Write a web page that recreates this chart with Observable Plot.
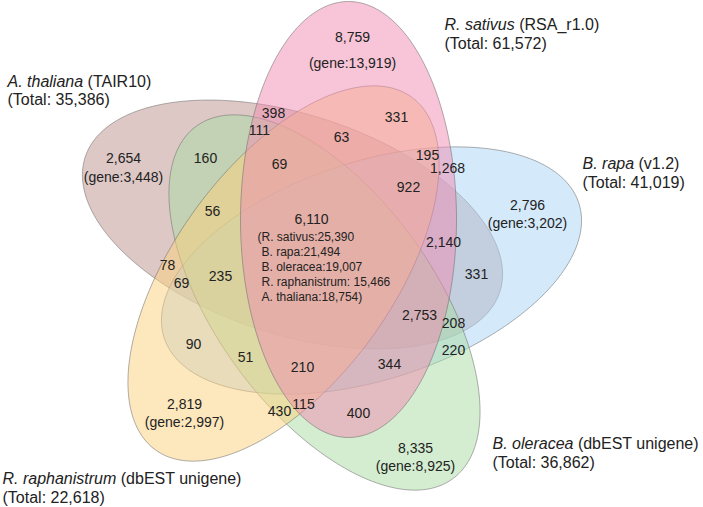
<!DOCTYPE html>
<html><head><meta charset="utf-8">
<script src="https://cdn.jsdelivr.net/npm/d3@7"></script>
<script src="https://cdn.jsdelivr.net/npm/@observablehq/plot@0.6"></script>
<style>html,body{margin:0;padding:0;background:#fff}</style>
</head><body><div id="chart"></div>
<script>
// ---- data ----
const sets = ["R. sativus", "A. thaliana", "B. rapa", "B. oleracea", "R. raphanistrum"];
const versions = ["(RSA_r1.0)", "(TAIR10)", "(v1.2)", "(dbEST unigene)", "(dbEST unigene)"];
const totals = [61572, 35386, 41019, 36862, 22618];
const uniqueCounts = [8759, 2654, 2796, 8335, 2819];
const uniqueGenes = [13919, 3448, 3202, 8925, 2997];
const overlapCounts = [398, 111, 63, 331, 69, 195, 1268, 922, 160, 56, 2140, 331, 235, 78, 69, 90, 51, 2753, 208, 220, 210, 344, 430, 115, 400];
const coreCount = 6110;
const coreLabels = ["R. sativus:", "B. rapa:", "B. oleracea:", "R. raphanistrum: ", "A. thaliana:"];
const coreGenes = [25390, 21494, 19007, 15466, 18754];

// ---- layout (positions / sizes / styles) ----
const W = 703, H = 507;
const colors = ["#f08cb0", "#bb928d", "#a9d4f5", "#aadba2", "#fbd07c"];
const ellipses = [
  {cx: 348, cy: 219, a: 218, b: 108, angle: 90},
  {cx: 292, cy: 224, a: 218, b: 110, angle: 18},
  {cx: 371, cy: 270, a: 218, b: 109, angle: -18},
  {cx: 324, cy: 302, a: 218, b: 109, angle: 54},
  {cx: 283, cy: 273, a: 218, b: 109, angle: -54}
];
const drawOrder = [1, 2, 3, 4, 0];
const labelPos = [[444, 24, 43], [7, 81, 99], [582, 163, 182], [492, 443, 462], [2, 478, 497]];
const uniquePos = [[352, 37, 63], [123, 158, 177], [527, 205, 223], [415, 448, 466], [184, 404, 422]];
const overlapPos = [[273,113],[259,130],[341,137],[396,117],[279,164],[427,155],[447,168],[408,187],[205,158],[212,211],[443,242],[476,274],[220,276],[167,265],[181,283],[193,344],[245,357],[419,315],[453,323],[453,350],[302,367],[389,364],[279,411],[303,404],[358,413]];
const corePos = [311, 219];
const coreLinePos = [[257,237],[261,252],[261,267],[261,282],[261,297]];

const fmt = d3.format(",");

// ellipse outlines derived from layout parameters
function ellipsePoints(e, i) {
  const n = 240, phi = e.angle * Math.PI / 180;
  return d3.range(n).map(k => {
    const t = 2 * Math.PI * k / n;
    const px = e.a * Math.cos(t), py = e.b * Math.sin(t);
    return {set: sets[i], x: e.cx + px * Math.cos(phi) - py * Math.sin(phi), y: e.cy + px * Math.sin(phi) + py * Math.cos(phi)};
  });
}

const ellipseMarks = drawOrder.map(i => Plot.line(ellipsePoints(ellipses[i], i), {
  x: "x", y: "y", curve: "linear-closed",
  fill: colors[i], fillOpacity: 0.5,
  stroke: "#6f6f6f", strokeOpacity: 0.55, strokeWidth: 1
}));

const setLabelRows = sets.flatMap((s, i) => [
  {x: labelPos[i][0], y: labelPos[i][1], text: s + " " + versions[i]},
  {x: labelPos[i][0], y: labelPos[i][2], text: "(Total: " + fmt(totals[i]) + ")"}
]);
const uniqueRows = uniqueCounts.flatMap((c, i) => [
  {x: uniquePos[i][0], y: uniquePos[i][1], text: fmt(c)},
  {x: uniquePos[i][0], y: uniquePos[i][2], text: "(gene:" + fmt(uniqueGenes[i]) + ")"}
]);
const overlapRows = overlapCounts.map((c, i) => ({x: overlapPos[i][0], y: overlapPos[i][1], text: fmt(c)}));
const coreRows = coreGenes.map((g, i) => ({
  x: coreLinePos[i][0], y: coreLinePos[i][1],
  text: (i === 0 ? "(" : "") + coreLabels[i] + fmt(g) + (i === coreGenes.length - 1 ? ")" : "")
}));

const chart = Plot.plot({
  width: W, height: H, margin: 0,
  x: {domain: [0, W], range: [0, W], axis: null},
  y: {domain: [0, H], range: [0, H], axis: null},
  style: {background: "#fff", fontFamily: "'Liberation Sans', Arial, sans-serif", color: "#222"},
  marks: [
    ...ellipseMarks,
    Plot.text(overlapRows, {x: "x", y: "y", text: "text", fontSize: 14, fill: "#222"}),
    Plot.text(uniqueRows, {x: "x", y: "y", text: "text", fontSize: 14, fill: "#222"}),
    Plot.text([{x: corePos[0], y: corePos[1], text: fmt(coreCount)}], {x: "x", y: "y", text: "text", fontSize: 14, fill: "#222"}),
    Plot.text(coreRows, {x: "x", y: "y", text: "text", fontSize: 12, textAnchor: "start", fill: "#222"}),
    Plot.text(setLabelRows, {x: "x", y: "y", text: "text", fontSize: 16, textAnchor: "start", fill: "#222"})
  ]
});

// italicise species names in the set labels
chart.querySelectorAll("text").forEach(t => {
  const s = t.textContent;
  const i = sets.findIndex((n, k) => s === n + " " + versions[k]);
  if (i < 0) return;
  t.textContent = "";
  const ns = "http://www.w3.org/2000/svg";
  const a = document.createElementNS(ns, "tspan");
  a.setAttribute("font-style", "italic");
  a.textContent = sets[i];
  const b = document.createElementNS(ns, "tspan");
  b.textContent = "\u00a0" + versions[i];
  t.appendChild(a); t.appendChild(b);
});

document.getElementById("chart").appendChild(chart);
</script>
</body></html>
